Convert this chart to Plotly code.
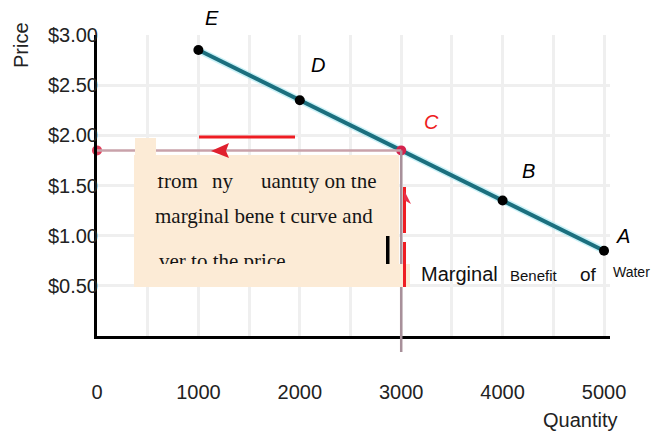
import plotly.graph_objects as go

# ---------------- data ----------------
quantity = [1000, 2000, 3000, 4000, 5000]
price = [2.85, 2.35, 1.85, 1.35, 0.85]
point_labels = ["E", "D", "C", "B", "A"]
x_ticks = [0, 1000, 2000, 3000, 4000, 5000]
y_ticks = [0.5, 1.0, 1.5, 2.0, 2.5, 3.0]
y_tick_labels = ["$0.50", "$1.00", "$1.50", "$2.00", "$2.50", "$3.00"]
chosen_label = "C"

# ---------------- geometry (pixels, in window coordinates) ----------------
W, H = 660, 434
BODY = 8                      # page body margin in the browser
L, R, T, B = 97, 610, 35, 336
X_RANGE = [0, 5059]
Y_RANGE = [0, 3.0]


def px(xp):
    return (xp - L) / (R - L)


def py(yp):
    return (B - yp) / (B - T)


ci = point_labels.index(chosen_label)
xC, yC = quantity[ci], price[ci]
y_per_px = (Y_RANGE[1] - Y_RANGE[0]) / (B - T)
y_below = -16 * y_per_px

FONT = "Liberation Sans, Arial, sans-serif"
SERIF = "Liberation Serif, Times New Roman, serif"
BEIGE = "#FCEBD6"
RED = "#EE1D23"

fig = go.Figure()

# glow under the curve
fig.add_trace(go.Scatter(x=quantity, y=price, mode="lines",
                         line=dict(color="rgba(150,230,242,0.5)", width=7),
                         hoverinfo="skip", showlegend=False))
# marginal benefit curve
marker_colors = ["#D4224C" if l == chosen_label else "#000000" for l in point_labels]
fig.add_trace(go.Scatter(x=quantity, y=price, mode="lines+markers",
                         line=dict(color="#1B6F7E", width=4),
                         marker=dict(color=marker_colors, size=10),
                         cliponaxis=False, showlegend=False))
# projection end dots
fig.add_trace(go.Scatter(x=[0, xC], y=[yC, y_below], mode="markers",
                         marker=dict(color=["#E0405C", "#C8405C"], size=10),
                         cliponaxis=False, showlegend=False))

shapes = []
# projection lines from point C
shapes.append(dict(type="line", xref="x", yref="y", x0=0, x1=xC, y0=yC, y1=yC,
                   line=dict(color="#C9A2AA", width=2.5), layer="above"))
shapes.append(dict(type="line", xref="x", yref="paper", x0=xC, x1=xC,
                   y0=yC / Y_RANGE[1], y1=y_below / Y_RANGE[1],
                   line=dict(color="#A8909A", width=2.5), layer="above"))
# beige text panel
for (x0, x1, y0, y1) in [(134, 399, 155, 287), (135, 156, 138, 155), (399, 410, 264, 287)]:
    shapes.append(dict(type="rect", xref="paper", yref="paper",
                       x0=px(x0), x1=px(x1), y0=py(y1), y1=py(y0),
                       fillcolor=BEIGE, line=dict(width=0), layer="above"))
# black bar
shapes.append(dict(type="rect", xref="paper", yref="paper",
                   x0=px(386), x1=px(389.5), y0=py(264), y1=py(236),
                   fillcolor="#000000", line=dict(width=0), layer="above"))
# red marks
shapes.append(dict(type="line", xref="paper", yref="paper", x0=px(199), x1=px(295),
                   y0=py(137), y1=py(137), line=dict(color=RED, width=3), layer="above"))
shapes.append(dict(type="line", xref="paper", yref="paper", x0=px(404.5), x1=px(404.5),
                   y0=py(187), y1=py(233), line=dict(color=RED, width=3), layer="above"))
shapes.append(dict(type="line", xref="paper", yref="paper", x0=px(404.5), x1=px(404.5),
                   y0=py(242), y1=py(287), line=dict(color=RED, width=3), layer="above"))


def tri(pts):
    p = " L ".join(f"{px(a):.5f},{py(b):.5f}" for a, b in pts)
    return "M " + p + " Z"


shapes.append(dict(type="path", xref="paper", yref="paper",
                   path=tri([(211, 151), (229, 143), (226, 151), (229, 158)]),
                   fillcolor="#E0202E", line=dict(width=0), layer="above"))
shapes.append(dict(type="path", xref="paper", yref="paper",
                   path=tri([(404, 190), (411, 204), (404, 200)]),
                   fillcolor="#E83048", line=dict(width=0), layer="above"))

annotations = []
# point labels
offsets = {"E": (14, 32), "D": (18, 35), "C": (30, 28), "B": (26, 30), "A": (19, 15)}
for q, p, lab in zip(quantity, price, point_labels):
    dx, dy = offsets[lab]
    annotations.append(dict(x=q, y=p, xref="x", yref="y", text=f"<i>{lab}</i>",
                            showarrow=False, xshift=dx, yshift=dy,
                            xanchor="center", yanchor="middle",
                            font=dict(family=FONT, size=20,
                                      color=RED if lab == chosen_label else "#000000")))
# axis titles
annotations.append(dict(x=px(21), y=py(45), xref="paper", yref="paper", text="Price",
                        textangle=-90, showarrow=False, xanchor="center", yanchor="middle",
                        font=dict(family=FONT, size=20, color="#222222")))
annotations.append(dict(x=px(580), y=py(420), xref="paper", yref="paper", text="Quantity",
                        showarrow=False, xanchor="center", yanchor="middle",
                        font=dict(family=FONT, size=20, color="#222222")))

# text in the panel
for txt, xl, yc in [("from", 155, 181), ("ny", 210, 181), ("uantity on the", 259, 181),
                    ("marginal bene t curve and", 153, 216),
                    ("ver to the price", 157, 261)]:
    annotations.append(dict(x=px(xl), y=py(yc), xref="paper", yref="paper", text=txt,
                            xanchor="left", yanchor="middle", showarrow=False,
                            font=dict(family=SERIF, size=21, color="#151515")))
# clipping covers
for (x0, x1, y0, y1) in [(150, 380, 158, 177), (150, 300, 263.5, 285)]:
    annotations.append(dict(x=px(x0), y=py(y0), xref="paper", yref="paper", text=" ",
                            xanchor="left", yanchor="top", showarrow=False,
                            width=x1 - x0, height=y1 - y0, bgcolor=BEIGE,
                            borderpad=0, borderwidth=0, font=dict(size=4)))

# curve title
for txt, xc, yc, size in [("Marginal", 459, 274, 20),
                          ("Benefit", 534, 275, 15),
                          ("of", 588, 274, 19),
                          ("Water", 631, 272, 14)]:
    annotations.append(dict(x=px(xc), y=py(yc), xref="paper", yref="paper", text=txt,
                            showarrow=False, xanchor="center", yanchor="middle",
                            font=dict(family=FONT, size=size, color="#111111")))

fig.update_layout(
    width=W - BODY, height=H - BODY,
    margin=dict(l=L - BODY, r=W - R, t=T - BODY, b=H - B, pad=0, autoexpand=False),
    paper_bgcolor="white", plot_bgcolor="white",
    shapes=shapes, annotations=annotations,
    showlegend=False,
)
fig.update_xaxes(range=X_RANGE, tickmode="array", tickvals=x_ticks,
                 ticktext=[str(v) for v in x_ticks], automargin=False,
                 showgrid=True, gridcolor="#EFEFEF", gridwidth=3,
                 minor=dict(dtick=500, tick0=0, showgrid=True, gridcolor="#EFEFEF", gridwidth=3),
                 showline=True, linecolor="black", linewidth=3, zeroline=False,
                 ticks="", ticklabelstandoff=36,
                 tickfont=dict(family=FONT, size=20, color="#222222"))
fig.update_yaxes(range=Y_RANGE, tickmode="array", tickvals=y_ticks, ticktext=y_tick_labels,
                 automargin=False,
                 showgrid=True, gridcolor="#EFEFEF", gridwidth=3,
                 showline=True, linecolor="black", linewidth=3, zeroline=False,
                 ticks="", ticklabelstandoff=-8,
                 tickfont=dict(family=FONT, size=20, color="#222222"))

fig.write_html("out.html")
